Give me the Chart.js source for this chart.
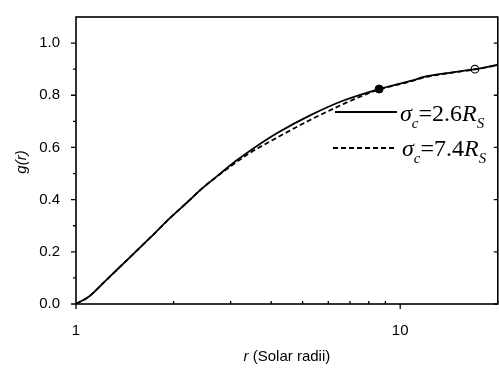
<!DOCTYPE html>
<html>
<head>
<meta charset="utf-8">
<script src="https://cdn.jsdelivr.net/npm/chart.js@4.4.1/dist/chart.umd.min.js"></script>
<style>
html, body { margin: 0; padding: 0; background: #fff; overflow: hidden; }
#wrap { width: 503px; height: 374px; }
</style>
</head>
<body>
<div id="wrap"><canvas id="chart" width="503" height="374"></canvas></div>
<script>
// sigma_c = 2.6 Rs (solid)
const rSolid = [1, 1.1, 1.208, 1.35, 1.529, 1.7, 1.933, 2.2, 2.445, 2.75, 3.095, 3.4, 4.2, 5.31, 6.72, 8.61, 10.76, 12.1, 14.5, 17.0, 20];
const gSolid = [0, 0.03, 0.078, 0.136, 0.201, 0.256, 0.325, 0.389, 0.442, 0.494, 0.546, 0.583, 0.657, 0.725, 0.781, 0.824, 0.855, 0.873, 0.888, 0.900, 0.917];

// sigma_c = 7.4 Rs (dashed)
const rDashed = [1, 1.1, 1.208, 1.35, 1.529, 1.7, 1.933, 2.2, 2.445, 2.75, 3.095, 3.4, 4.2, 5.31, 6.72, 8.0, 8.61, 10.76, 12.1, 14.5, 17.0, 20];
const gDashed = [0, 0.03, 0.078, 0.136, 0.201, 0.256, 0.325, 0.389, 0.442, 0.493, 0.540, 0.575, 0.640, 0.707, 0.768, 0.808, 0.822, 0.853, 0.871, 0.887, 0.899, 0.916];

// marked points
const rFilled = [8.61];
const gFilled = [0.824];
const rOpen = [17.0];
const gOpen = [0.900];

const xTickVals = [1, 10];
const xTickLabels = ['1', '10'];
const xMinorVals = [2, 3, 4, 5, 6, 7, 8, 9, 20];
const yTickVals = [0, 0.2, 0.4, 0.6, 0.8, 1.0];
const yMinorVals = [0.1, 0.3, 0.5, 0.7, 0.9];

const toPts = (xs, ys) => xs.map((x, i) => ({ x: x, y: ys[i] }));

Chart.defaults.font.family = '"Liberation Sans", Arial, sans-serif';
Chart.defaults.color = '#000';

// draws the rich text pieces (italics and subscripts)
function drawRich(ctx, x, y, parts, size, family) {
    parts.forEach(p => {
        const s = p.sub ? size * 0.62 : size;
        ctx.font = (p.italic ? 'italic ' : '') + s + 'px ' + family;
        ctx.fillText(p.t, x, y + (p.sub ? size * 0.28 : 0));
        x += ctx.measureText(p.t).width;
    });
}

const framePlugin = {
    id: 'frame',
    afterDraw(chart) {
        const ctx = chart.ctx;
        const a = chart.chartArea;
        const xs = chart.scales.x, ys = chart.scales.y;
        ctx.save();
        ctx.strokeStyle = '#000';
        ctx.fillStyle = '#000';
        ctx.lineWidth = 1.6;
        ctx.strokeRect(a.left, a.top, a.right - a.left, a.bottom - a.top);

        ctx.lineWidth = 1.3;
        ctx.beginPath();
        xTickVals.forEach(v => {
            const px = xs.getPixelForValue(v);
            ctx.moveTo(px, a.bottom + 5); ctx.lineTo(px, a.bottom);
        });
        xMinorVals.forEach(v => {
            const px = xs.getPixelForValue(v);
            ctx.moveTo(px, a.bottom); ctx.lineTo(px, a.bottom - 3);
        });
        yTickVals.forEach(v => {
            const py = ys.getPixelForValue(v);
            ctx.moveTo(a.left - 5, py); ctx.lineTo(a.left, py);
            ctx.moveTo(a.right - 4, py); ctx.lineTo(a.right, py);
        });
        yMinorVals.forEach(v => {
            const py = ys.getPixelForValue(v);
            ctx.moveTo(a.left - 3, py); ctx.lineTo(a.left, py);
        });
        ctx.stroke();

        // legend
        ctx.lineWidth = 1.8;
        ctx.beginPath();
        ctx.moveTo(335, 112); ctx.lineTo(397, 112);
        ctx.stroke();
        ctx.setLineDash([5, 3]);
        ctx.beginPath();
        ctx.moveTo(333, 148); ctx.lineTo(397, 148);
        ctx.stroke();
        ctx.setLineDash([]);

        ctx.textBaseline = 'alphabetic';
        ctx.textAlign = 'left';
        const serif = '"Liberation Serif", "Times New Roman", serif';
        drawRich(ctx, 400, 121, [
            { t: 'σ', italic: true }, { t: 'c', italic: true, sub: true },
            { t: '=2.6' }, { t: 'R', italic: true }, { t: 'S', italic: true, sub: true }
        ], 24, serif);
        drawRich(ctx, 402, 156, [
            { t: 'σ', italic: true }, { t: 'c', italic: true, sub: true },
            { t: '=7.4' }, { t: 'R', italic: true }, { t: 'S', italic: true, sub: true }
        ], 24, serif);

        // axis titles
        const sans = '"Liberation Sans", Arial, sans-serif';
        ctx.textBaseline = 'middle';
        ctx.font = 'italic 15px ' + sans;
        const w1 = ctx.measureText('r').width;
        ctx.font = '15px ' + sans;
        const w2 = ctx.measureText(' (Solar radii)').width;
        let tx = (a.left + a.right) / 2 - (w1 + w2) / 2;
        ctx.font = 'italic 15px ' + sans;
        ctx.fillText('r', tx, 357);
        ctx.font = '15px ' + sans;
        ctx.fillText(' (Solar radii)', tx + w1, 357);

        ctx.translate(22, 162);
        ctx.rotate(-Math.PI / 2);
        ctx.textAlign = 'center';
        ctx.font = 'italic 15px ' + sans;
        ctx.fillText('g(r)', 0, 0);
        ctx.restore();
    }
};

const ctx = document.getElementById('chart').getContext('2d');
new Chart(ctx, {
    type: 'scatter',
    data: {
        datasets: [
            {
                label: 'σc=2.6Rs',
                data: toPts(rSolid, gSolid),
                showLine: true,
                borderColor: '#000',
                borderWidth: 1.8,
                pointRadius: 0,
                cubicInterpolationMode: 'monotone'
            },
            {
                label: 'σc=7.4Rs',
                data: toPts(rDashed, gDashed),
                showLine: true,
                borderColor: '#000',
                borderWidth: 1.8,
                borderDash: [5, 3],
                pointRadius: 0,
                cubicInterpolationMode: 'monotone'
            },
            {
                label: 'filled',
                data: toPts(rFilled, gFilled),
                pointRadius: 4,
                pointBackgroundColor: '#000',
                pointBorderColor: '#000'
            },
            {
                label: 'open',
                data: toPts(rOpen, gOpen),
                pointRadius: 3.8,
                pointBackgroundColor: '#fff',
                pointBorderColor: '#000',
                pointBorderWidth: 1.2
            }
        ]
    },
    options: {
        responsive: false,
        animation: false,
        layout: { padding: { top: 7, right: 2, left: 0, bottom: 0 } },
        plugins: {
            legend: { display: false },
            tooltip: { enabled: false }
        },
        scales: {
            x: {
                type: 'logarithmic',
                min: 1,
                max: 20,
                grid: { display: false },
                border: { display: false },
                afterBuildTicks: scale => {
                    scale.ticks = xTickVals.map(v => ({ value: v }));
                },
                afterFit: scale => { scale.height = 70; },
                ticks: {
                    autoSkip: false,
                    maxRotation: 0,
                    padding: 10,
                    font: { size: 15 },
                    callback: (v) => {
                        const i = xTickVals.indexOf(v);
                        return i >= 0 ? xTickLabels[i] : '';
                    }
                }
            },
            y: {
                min: 0,
                max: 1.1,
                grid: { display: false },
                border: { display: false },
                afterBuildTicks: scale => {
                    scale.ticks = yTickVals.map(v => ({ value: v }));
                },
                afterFit: scale => { scale.width = 76; },
                ticks: {
                    padding: 8,
                    font: { size: 15 },
                    callback: v => v.toFixed(1)
                }
            }
        }
    },
    plugins: [framePlugin]
});
</script>
</body>
</html>
